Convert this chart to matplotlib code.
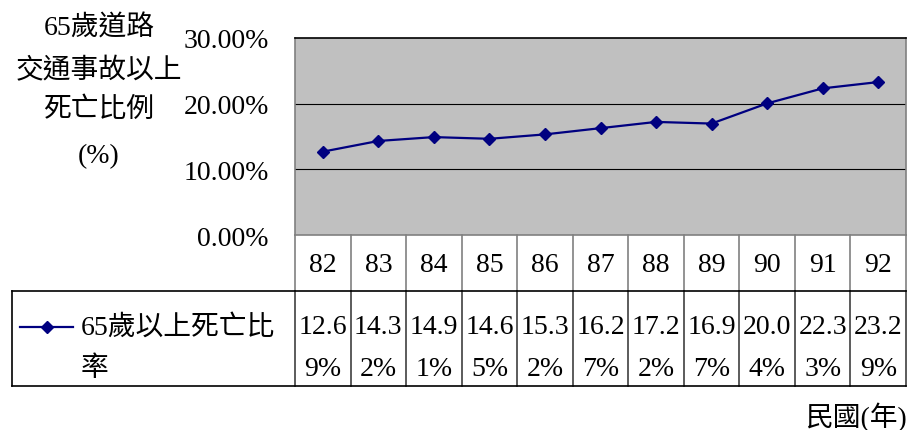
import matplotlib
matplotlib.use("Agg")
import matplotlib.pyplot as plt
from matplotlib.lines import Line2D
import matplotlib.transforms as mtransforms

plt.rcParams['font.family'] = ['Liberation Serif', 'Noto Sans CJK TC']

years = ['82', '83', '84', '85', '86', '87', '88', '89', '90', '91', '92']
values = [12.69, 14.32, 14.91, 14.65, 15.32, 16.27, 17.22, 16.97, 20.04, 22.33, 23.29]
yticks = [0, 10, 20, 30]
series_name_lines = ['65歲以上死亡比', '率']
ylabel_lines = ['65歲道路', '交通事故以上', '死亡比例', '(%)']
xlabel = '民國(年)'

W, H = 907, 430
fig = plt.figure(figsize=(W / 100, H / 100), dpi=100)
fig.patch.set_facecolor('white')

def fx(px):
    return px / W

def fy(py):
    return 1 - py / H

left_px, right_px, top_px, bot_px = 295, 906, 38, 235
ax = fig.add_axes([fx(left_px), fy(bot_px), fx(right_px) - fx(left_px), fy(top_px) - fy(bot_px)])
ax.set_facecolor('#C0C0C0')
ax.set_xlim(-0.5, len(years) - 0.5)
ax.set_ylim(0, 30)
for t in yticks[1:-1]:
    ax.axhline(t, color='black', lw=0.8, zorder=1)
ax.plot(range(len(years)), values, color='#000080', lw=1.6, marker='D', ms=6.5,
        mfc='#000080', mec='#000080', zorder=3)
for s in ax.spines.values():
    s.set_color('#808080')
    s.set_linewidth(1.2)
ax.spines['top'].set_color('black')
ax.set_xticks([])
ax.set_yticks([])

fs = 20
# y tick labels
for t in yticks:
    yp = bot_px - (bot_px - top_px) * t / 30 + 4
    fig.text(fx(269), fy(yp), f'{t:.2f}%', ha='right', va='center', fontsize=fs)

# y label
ylab_y = [28, 71, 110, 157]
for txt, yp in zip(ylabel_lines, ylab_y):
    fig.text(fx(99), fy(yp), txt, ha='center', va='center', fontsize=fs)

# data table
trans = mtransforms.blended_transform_factory(ax.transData, fig.transFigure)
row1_top, row1_bot, row2_bot = 235, 291, 386
n = len(years)
for i in range(n + 1):
    xb = i - 0.5
    fig.add_artist(Line2D([xb, xb], [fy(row1_top), fy(row1_bot)], transform=trans,
                          color='#808080', lw=1.2))
    fig.add_artist(Line2D([xb, xb], [fy(row1_bot), fy(row2_bot)], transform=trans,
                          color='#404040', lw=1.2))
# horizontal lines
fig.add_artist(Line2D([fx(12), fx(right_px)], [fy(row1_bot), fy(row1_bot)],
                      transform=fig.transFigure, color='black', lw=1.2))
fig.add_artist(Line2D([fx(12), fx(right_px)], [fy(row2_bot), fy(row2_bot)],
                      transform=fig.transFigure, color='black', lw=1.2))
fig.add_artist(Line2D([fx(12), fx(12)], [fy(row1_bot), fy(row2_bot)],
                      transform=fig.transFigure, color='black', lw=1.2))

for i, (yr, v) in enumerate(zip(years, values)):
    fig.text(i, fy(265), yr, transform=trans, ha='center', va='center', fontsize=fs)
    s = f'{v:.2f}%'
    fig.text(i, fy(328), s[:4], transform=trans, ha='center', va='center', fontsize=fs)
    fig.text(i, fy(369), s[4:], transform=trans, ha='center', va='center', fontsize=fs)

# legend key
fig.add_artist(Line2D([fx(20), fx(73)], [fy(327), fy(327)], transform=fig.transFigure,
                      color='#000080', lw=1.6, marker=None))
fig.add_artist(Line2D([fx(47)], [fy(327)], transform=fig.transFigure, color='#000080',
                      marker='D', ms=6.5, mfc='#000080', mec='#000080', lw=0))
fig.text(fx(81), fy(328), series_name_lines[0], ha='left', va='center', fontsize=fs)
fig.text(fx(81), fy(369), series_name_lines[1], ha='left', va='center', fontsize=fs)

# x label
fig.text(fx(805), fy(417), xlabel, ha='left', va='center', fontsize=fs)

fig.savefig('out.png', dpi=100, facecolor='white')
